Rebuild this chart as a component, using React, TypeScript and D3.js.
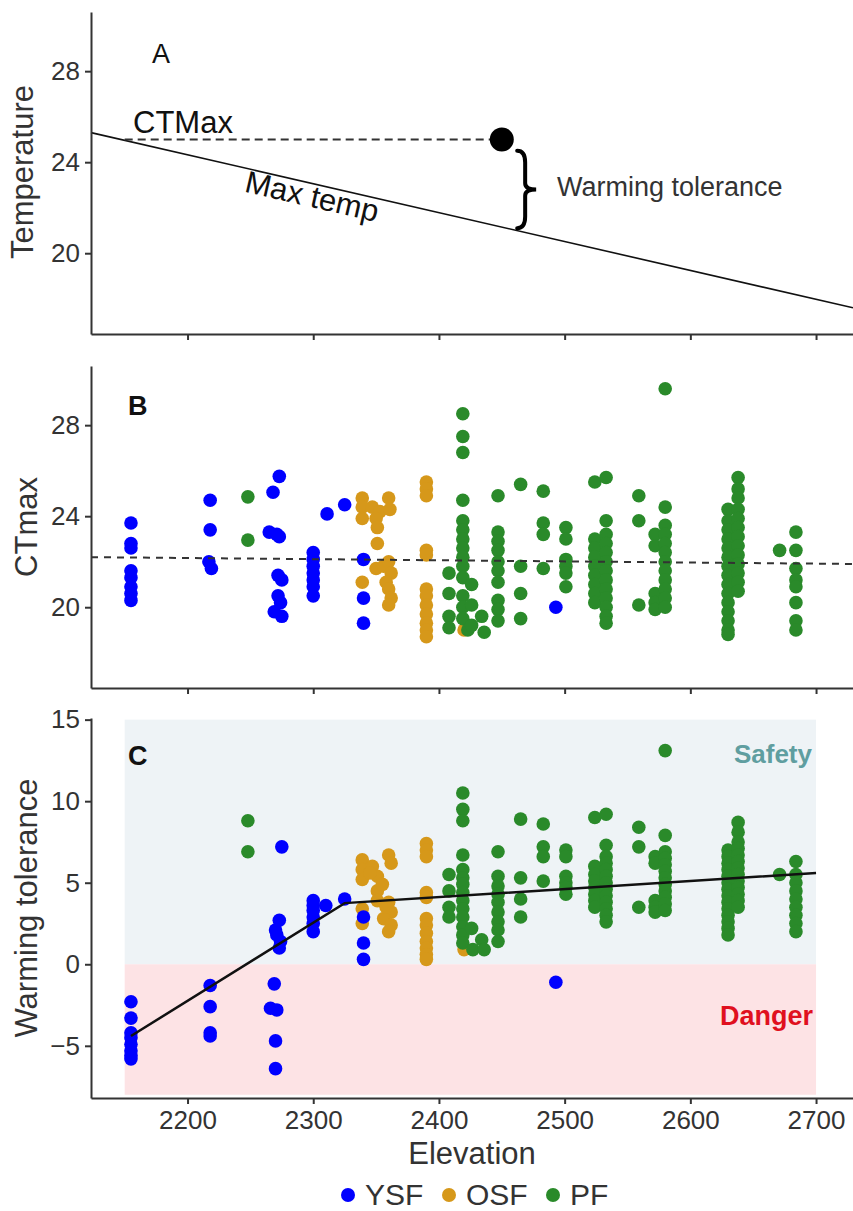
import { useEffect, useRef } from "react";
import * as d3 from "d3";

type Pt = [number, number];

// one column of points at a single site elevation
function col(elev: number, vals: number[]): Pt[] {
  return vals.map((v) => [elev, v] as Pt);
}

const groups = ["YSF", "OSF", "PF"];
const groupColor: Record<string, string> = { YSF: "#0000ff", OSF: "#d6981a", PF: "#2a8a2a" };

const elevTicks = [2200, 2300, 2400, 2500, 2600, 2700];
const tempTicks = [20, 24, 28];
const tolTicks = [-5, 0, 5, 10, 15];

// panel A schematic
const maxTempLine: Pt[] = [[2123.2, 25.3], [2729.4, 17.6]];
const ctmaxRefLine: Pt[] = [[2150, 25], [2450, 25]];
const ctmaxDot: Pt = [2450, 25];
const braceSpan = { elev: 2467, top: 24.5, bottom: 21.1 };

// panel B trend, panel C segmented fit
const ctTrend: Pt[] = [[2123.2, 22.2], [2729.4, 21.9]];
const tolFit: Pt[] = [[2155, -4.4], [2325, 3.75], [2700, 5.6]];
const safetyZone = { x0: 2150, x1: 2700, y0: 0, y1: 15 };
const dangerZone = { x0: 2150, x1: 2700, y0: -8, y1: 0 };

// ---- panel B: CTmax ----
const ysfCT: Pt[] = [
  ...col(2155, [23.7, 22.8, 22.6, 21.6, 21.3, 20.9, 20.6, 20.3]),
  [2218, 24.7], [2218, 23.4], [2217, 22.0], [2219, 21.7],
  [2273, 25.75], [2268, 25.05], [2265, 23.3], [2271, 23.2], [2273, 23.1], [2272, 21.4],
  [2275, 21.2], [2272, 20.5], [2274, 20.2], [2269, 19.8], [2275, 19.6],
  ...col(2300, [22.4, 22.1, 21.8, 21.5, 21.2, 20.9, 20.5]),
  [2311, 24.1], [2325, 24.5],
  ...col(2340, [22.1, 20.4, 19.3]),
  [2493, 20.0],
];
const osfCT: Pt[] = [
  [2339, 24.8], [2360, 24.8], [2339, 24.4], [2347, 24.4], [2353, 24.2], [2361, 24.3],
  [2339, 23.9], [2350, 23.9], [2351, 23.5], [2351, 22.8], [2350, 21.7], [2356, 21.8],
  [2360, 22.0], [2362, 21.5], [2339, 21.1], [2358, 21.1], [2360, 20.8], [2362, 20.4], [2360, 20.1],
  ...col(2390, [25.5, 25.2, 24.9, 22.5, 22.3, 20.8, 20.5, 20.1, 19.7, 19.3, 19.0, 18.7]),
  [2420, 19.0],
];
const pfCT: Pt[] = [
  [2248, 24.85], [2248, 22.95],
  ...col(2408, [21.5, 20.6, 19.6, 19.1]),
  ...col(2419, [28.5, 27.5, 26.8, 24.7, 23.8, 23.4, 23.0, 22.6, 22.2, 21.8, 21.3, 20.5, 20.0, 19.5]),
  [2423, 19.0],
  ...col(2426, [21.0, 20.1, 19.2]),
  [2434, 19.6], [2436, 18.9],
  ...col(2447, [24.9, 23.3, 22.9, 22.5, 22.0, 21.6, 21.1, 20.3, 19.9, 19.4]),
  ...col(2465, [25.4, 21.8, 20.6, 19.5]),
  ...col(2483, [25.1, 23.7, 23.2, 21.7]),
  ...col(2501, [23.5, 23.0, 22.1, 21.8, 21.5, 20.9]),
  ...col(2524, [25.5, 23.0, 22.6, 22.2, 21.8, 21.4, 21.0, 20.6, 20.2]),
  ...col(2533, [25.7, 23.8, 23.2, 22.8, 22.4, 22.0, 21.6, 21.2, 20.8, 20.4, 20.0, 19.6, 19.3]),
  ...col(2559, [24.9, 23.8, 20.1]),
  ...col(2572, [23.2, 22.7, 20.6, 20.2, 19.9]),
  ...col(2580, [29.6, 24.4, 23.6, 23.2, 22.8, 22.4, 22.0, 21.6, 21.2, 20.8, 20.4, 20.0]),
  ...col(2630, [24.3, 23.8, 23.4, 23.0, 22.6, 22.2, 21.8, 21.4, 21.0, 20.6, 20.2, 19.8, 19.4, 19.0, 18.8]),
  ...col(2638, [25.7, 25.2, 24.8, 24.3, 23.9, 23.5, 23.1, 22.7, 22.3, 21.9, 21.5, 21.1, 20.7]),
  [2671, 22.5],
  ...col(2684, [23.3, 22.5, 21.7, 21.2, 20.9, 20.2, 19.4, 19.0]),
];

// ---- panel C: warming tolerance ----
const ysfWT: Pt[] = [
  ...col(2155, [-2.3, -3.3, -4.2, -4.5, -4.9, -5.3, -5.6, -5.8]),
  ...col(2218, [-1.3, -2.6, -4.2, -4.4]),
  [2275, 7.2], [2273, 2.7], [2270, 2.1], [2271, 1.8], [2274, 1.4], [2273, 1.0],
  [2269, -1.2], [2266, -2.7], [2271, -2.8], [2270, -4.7], [2270, -6.4],
  ...col(2300, [3.9, 3.6, 3.3, 2.9, 2.5, 2.0]),
  [2310, 3.6], [2325, 4.0],
  ...col(2340, [2.9, 1.3, 0.3]),
  [2493, -1.1],
];
const osfWT: Pt[] = [
  [2339, 6.4], [2339, 5.8], [2339, 5.2], [2347, 6.0], [2351, 5.4], [2360, 6.7], [2362, 6.2],
  [2351, 4.5], [2351, 3.9], [2360, 3.8], [2362, 3.2], [2356, 2.8], [2362, 2.4], [2360, 2.0],
  [2339, 2.5], [2339, 3.4], [2345, 5.6], [2355, 4.9], [2358, 3.5],
  ...col(2390, [7.4, 7.0, 6.6, 4.4, 4.1, 2.8, 2.4, 1.9, 1.4, 1.0, 0.6, 0.3]),
  [2420, 0.9],
];
const pfWT: Pt[] = [
  [2248, 8.8], [2248, 6.9],
  ...col(2408, [5.5, 4.5, 3.5, 2.9]),
  ...col(2419, [10.5, 9.5, 8.8, 6.7, 5.8, 5.3, 4.9, 4.4, 3.9, 3.4, 2.9, 2.3, 1.8, 1.3]),
  [2426, 2.2], [2427, 0.9], [2434, 1.5], [2436, 0.9],
  ...col(2447, [6.9, 5.4, 4.8, 4.3, 3.8, 3.2, 2.6, 2.1, 1.4]),
  ...col(2465, [8.9, 5.3, 4.0, 2.9]),
  ...col(2483, [8.6, 7.2, 6.6, 5.1]),
  ...col(2501, [7.0, 6.6, 5.4, 5.0, 4.7, 4.3]),
  ...col(2524, [9.0, 6.0, 5.5, 5.1, 4.7, 4.3, 3.9, 3.5]),
  ...col(2533, [9.2, 7.3, 6.6, 6.2, 5.8, 5.4, 5.0, 4.6, 4.2, 3.8, 3.4, 3.0, 2.6]),
  ...col(2559, [8.4, 7.2, 3.5]),
  ...col(2572, [6.6, 6.2, 3.9, 3.5, 3.2]),
  ...col(2580, [13.1, 7.9, 6.9, 6.5, 6.1, 5.7, 5.3, 4.9, 4.5, 4.1, 3.7, 3.3]),
  ...col(2630, [7.0, 6.6, 6.2, 5.8, 5.4, 5.0, 4.6, 4.2, 3.8, 3.4, 3.0, 2.6, 2.2, 1.8]),
  ...col(2638, [8.7, 8.1, 7.5, 7.1, 6.7, 6.3, 5.9, 5.5, 5.1, 4.7, 4.3, 3.9, 3.5]),
  [2671, 5.5],
  ...col(2684, [6.3, 5.5, 5.0, 4.5, 4.0, 3.5, 3.0, 2.5, 2.0]),
];

const FONT = "'Liberation Sans', Arial, sans-serif";
const INK = "#333";

export default function App() {
  const svgRef = useRef<SVGSVGElement>(null);

  useEffect(() => {
    const svg = d3.select(svgRef.current);
    svg.selectAll("*").remove();

    const x = d3.scaleLinear().domain([2123.2, 2729.4]).range([91, 853]);
    const yA = d3.scaleLinear().domain([16.45, 30.6]).range([334, 12]);
    const yB = d3.scaleLinear().domain([16.45, 30.6]).range([688, 366]);
    const yC = d3.scaleLinear().domain([-8.2, 15.1]).range([1098, 718]);

    const styleAxis = (g: any) => {
      g.select(".domain").attr("stroke", INK).attr("stroke-width", 2);
      g.selectAll(".tick line").attr("stroke", INK).attr("stroke-width", 2);
      g.selectAll(".tick text").attr("fill", INK).style("font-size", "26px").style("font-family", FONT);
    };

    const drawAxes = (y: d3.ScaleLinear<number, number>, ticks: number[], bottom: number, labels: boolean) => {
      const gy = svg.append("g").attr("transform", "translate(91,0)")
        .call(d3.axisLeft(y).tickValues(ticks).tickSize(6).tickSizeOuter(0).tickPadding(5));
      styleAxis(gy);
      const ax = d3.axisBottom(x).tickValues(elevTicks).tickSize(6).tickSizeOuter(0).tickPadding(7)
        .tickFormat(labels ? d3.format("d") : () => "");
      const gx = svg.append("g").attr("transform", `translate(0,${bottom})`).call(ax);
      styleAxis(gx);
    };

    const title = (txt: string, tx: number, ty: number, rot: boolean) => {
      svg.append("text")
        .attr("transform", `translate(${tx},${ty})${rot ? " rotate(-90)" : ""}`)
        .attr("text-anchor", "middle")
        .style("font-family", FONT).style("font-size", "31px").attr("fill", INK)
        .text(txt);
    };

    const dots = (y: d3.ScaleLinear<number, number>, sets: Record<string, Pt[]>) => {
      // draw order: OSF, PF, then YSF on top
      ["OSF", "PF", "YSF"].forEach((grp) => {
        svg.append("g").selectAll("circle").data(sets[grp]).join("circle")
          .attr("cx", (d) => x(d[0])).attr("cy", (d) => y(d[1]))
          .attr("r", 6.8).attr("fill", groupColor[grp]);
      });
    };

    const line = (y: d3.ScaleLinear<number, number>) =>
      d3.line<Pt>().x((d) => x(d[0])).y((d) => y(d[1]));

    // PANEL A
    svg.append("path").attr("d", line(yA)(maxTempLine)).attr("fill", "none").attr("stroke", "#111").attr("stroke-width", 1.6);
    svg.append("path").attr("d", line(yA)(ctmaxRefLine)).attr("fill", "none").attr("stroke", INK)
      .attr("stroke-width", 2).attr("stroke-dasharray", "8,5");
    svg.append("circle").attr("cx", x(ctmaxDot[0])).attr("cy", yA(ctmaxDot[1])).attr("r", 12).attr("fill", "#000");

    // curly brace
    const bx = x(braceSpan.elev) + 2, b1 = yA(braceSpan.top), b2 = yA(braceSpan.bottom);
    const bm = (b1 + b2) / 2, bh = b2 - b1;
    svg.append("path")
      .attr("d", `M${bx - 8},${b1} Q${bx},${b1} ${bx},${b1 + bh * 0.15} L${bx},${bm - bh * 0.08} Q${bx},${bm} ${bx + 11},${bm}` +
        ` Q${bx},${bm} ${bx},${bm + bh * 0.08} L${bx},${b2 - bh * 0.15} Q${bx},${b2} ${bx - 8},${b2}`)
      .attr("fill", "none").attr("stroke", "#000").attr("stroke-width", 4).attr("stroke-linecap", "round");

    svg.append("text").attr("x", 557).attr("y", 196).style("font-family", FONT).style("font-size", "27px")
      .attr("fill", INK).text("Warming tolerance");
    svg.append("text").attr("x", 133).attr("y", 133).style("font-family", FONT).style("font-size", "31px")
      .attr("fill", "#111").text("CTMax");
    const p0 = [x(maxTempLine[0][0]), yA(maxTempLine[0][1])];
    const p1 = [x(maxTempLine[1][0]), yA(maxTempLine[1][1])];
    const ang = (Math.atan2(p1[1] - p0[1], p1[0] - p0[0]) * 180) / Math.PI;
    svg.append("text").attr("transform", `translate(312,197) rotate(${ang})`).attr("y", 10)
      .attr("text-anchor", "middle").style("font-family", FONT).style("font-size", "31px")
      .attr("fill", "#111").text("Max temp");
    svg.append("text").attr("x", 152).attr("y", 63).style("font-family", FONT).style("font-size", "27px")
      .attr("fill", "#111").text("A");

    drawAxes(yA, tempTicks, 334, false);
    title("Temperature", 33, 172, true);

    // PANEL B
    dots(yB, { YSF: ysfCT, OSF: osfCT, PF: pfCT });
    svg.append("path").attr("d", line(yB)(ctTrend)).attr("fill", "none").attr("stroke", INK)
      .attr("stroke-width", 2).attr("stroke-dasharray", "7,6");
    svg.append("text").attr("x", 128).attr("y", 415).style("font-family", FONT).style("font-size", "27px")
      .style("font-weight", "bold").attr("fill", "#111").text("B");
    drawAxes(yB, tempTicks, 688, false);
    title("CTmax", 37, 527, true);

    // PANEL C
    svg.append("rect").attr("x", x(safetyZone.x0)).attr("width", x(safetyZone.x1) - x(safetyZone.x0))
      .attr("y", yC(safetyZone.y1)).attr("height", yC(safetyZone.y0) - yC(safetyZone.y1)).attr("fill", "#eef3f6");
    svg.append("rect").attr("x", x(dangerZone.x0)).attr("width", x(dangerZone.x1) - x(dangerZone.x0))
      .attr("y", yC(dangerZone.y1)).attr("height", yC(dangerZone.y0) - yC(dangerZone.y1)).attr("fill", "#fde3e5");
    dots(yC, { YSF: ysfWT, OSF: osfWT, PF: pfWT });
    svg.append("path").attr("d", line(yC)(tolFit)).attr("fill", "none").attr("stroke", "#111").attr("stroke-width", 2.5);
    svg.append("text").attr("x", 812).attr("y", 763).attr("text-anchor", "end").style("font-family", FONT)
      .style("font-size", "26px").style("font-weight", "bold").attr("fill", "#5f9ea0").text("Safety");
    svg.append("text").attr("x", 813).attr("y", 1025).attr("text-anchor", "end").style("font-family", FONT)
      .style("font-size", "27px").style("font-weight", "bold").attr("fill", "#e0101e").text("Danger");
    svg.append("text").attr("x", 128).attr("y", 765).style("font-family", FONT).style("font-size", "27px")
      .style("font-weight", "bold").attr("fill", "#111").text("C");
    drawAxes(yC, tolTicks, 1098, true);
    title("Warming tolerance", 37, 908, true);
    title("Elevation", 472, 1164, false);

    // legend
    const legX = [348, 449, 553];
    groups.forEach((grp, i) => {
      svg.append("circle").attr("cx", legX[i]).attr("cy", 1195).attr("r", 7).attr("fill", groupColor[grp]);
      svg.append("text").attr("x", legX[i] + 17).attr("y", 1205).style("font-family", FONT)
        .style("font-size", "30px").attr("fill", INK).text(grp);
    });
  }, []);

  return (
    <svg ref={svgRef} width={853} height={1211}
      style={{ position: "absolute", left: 0, top: 0, background: "#fff" }} />
  );
}
